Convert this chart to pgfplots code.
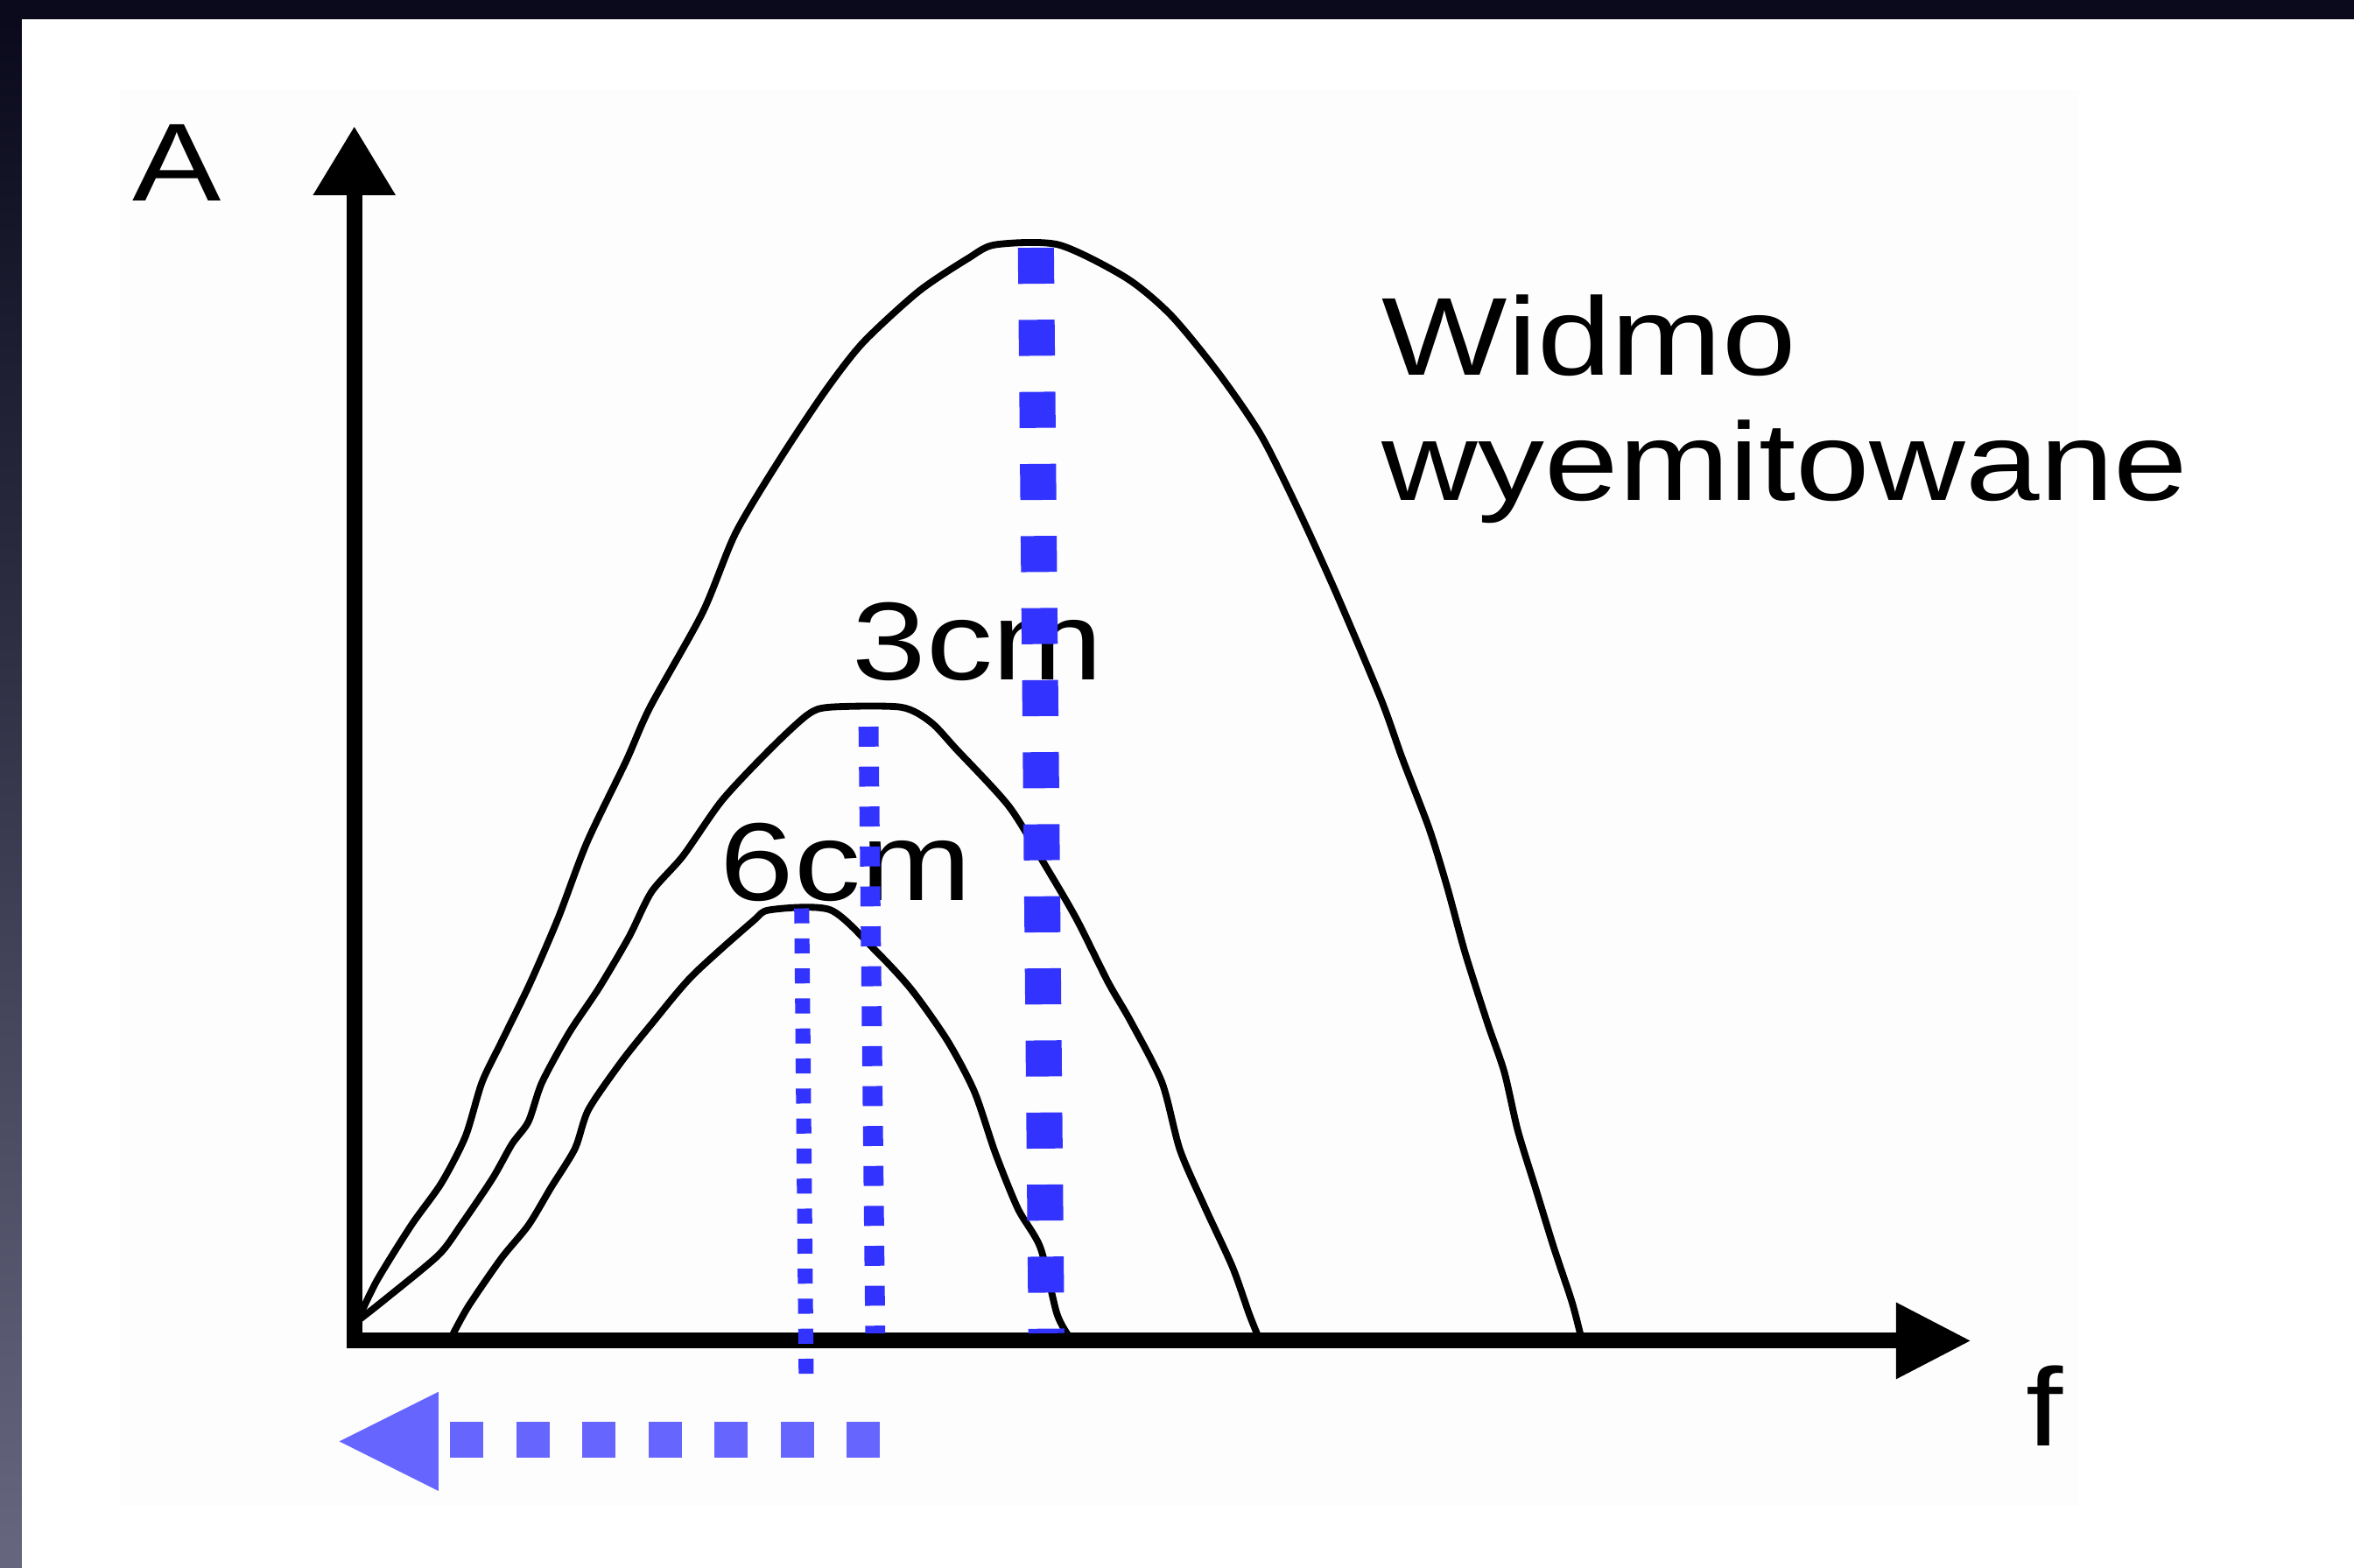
\documentclass[border=0pt]{standalone}
\usepackage{pgfplots}
\pgfplotsset{compat=1.18}
\usetikzlibrary{arrows.meta}
\usepackage{fontspec}
\setmainfont{Liberation Sans}[FakeStretch=1.2]

\definecolor{markblue}{HTML}{3333FF}
\definecolor{arrowblue}{HTML}{6666FF}
\definecolor{frametop}{HTML}{0A0A1C}
\definecolor{framebottom}{HTML}{66667F}
\newcommand\lab{\fontsize{21}{25}\selectfont}

\begin{document}
\begin{tikzpicture}
\begin{axis}[
  scale only axis, width=15.68cm, height=10.44cm,
  xmin=-2.36, xmax=13.32, ymin=-1.51, ymax=8.93,
  hide axis, clip=false,
  spectrum/.style={black, line width=1.3pt, line join=round, smooth, tension=0.45},
]
% page background and dark frame
\fill[white] (axis cs:-2.36,-1.51) rectangle (axis cs:13.32,8.93);
\fill[black!0.6] (axis cs:-1.56,-1.10) rectangle (axis cs:11.49,8.33);
\fill[frametop] (axis cs:-2.36,8.80) rectangle (axis cs:13.32,8.93);
\fill[top color=frametop, bottom color=framebottom] (axis cs:-2.36,-1.51) rectangle (axis cs:-2.215,8.80);
\coordinate (ll) at (axis cs:-2.36,-1.51);
\coordinate (ur) at (axis cs:13.32,8.93);

% axes A (up) and f (right)
\addplot[black, line width=3pt, line join=miter,
  arrows={Triangle[length=4.6mm,width=5.2mm]-Triangle[length=5mm,width=4.8mm]}]
  coordinates {(0,8.09) (0,0) (10.77,0)};

% emitted spectrum
\addplot[spectrum] coordinates {
 (0.02,0.13) (0.15,0.40) (0.38,0.77) (0.58,1.05) (0.74,1.36) (0.85,1.72)
 (0.98,1.99) (1.17,2.38) (1.36,2.82) (1.55,3.32) (1.81,3.86) (1.97,4.22)
 (2.32,4.85) (2.54,5.38) (2.84,5.88) (3.14,6.33) (3.39,6.65) (3.76,6.99)
 (4.09,7.21) (4.27,7.30) (4.69,7.30) (5.14,7.08) (5.44,6.83) (5.76,6.44)
 (6.04,6.03) (6.29,5.53) (6.54,4.98) (6.84,4.27) (6.98,3.88) (7.16,3.41)
 (7.28,3.02) (7.40,2.58) (7.55,2.11) (7.66,1.79) (7.75,1.40) (7.87,1.01)
 (7.99,0.62) (8.11,0.26) (8.17,0.03)};

% spectrum after 3 cm
\addplot[spectrum] coordinates {
 (0.02,0.13) (0.21,0.28) (0.56,0.57) (0.71,0.77) (0.92,1.08) (1.05,1.31)
 (1.16,1.46) (1.25,1.72) (1.43,2.05) (1.63,2.35) (1.83,2.69) (1.98,2.99)
 (2.19,3.23) (2.45,3.60) (2.77,3.94) (3.02,4.17) (3.17,4.22) (3.64,4.22)
 (3.84,4.12) (4.01,3.94) (4.36,3.56) (4.60,3.17) (4.81,2.81) (5.02,2.39)
 (5.17,2.13) (5.38,1.72) (5.50,1.27) (5.67,0.88) (5.85,0.49) (5.96,0.18)
 (6.02,0.03)};

% spectrum after 6 cm
\addplot[spectrum] coordinates {
 (0.65,0.03) (0.76,0.23) (0.98,0.55) (1.16,0.77) (1.31,1.02) (1.47,1.28)
 (1.56,1.54) (1.78,1.86) (1.98,2.11) (2.25,2.43) (2.65,2.79) (2.77,2.87)
 (3.17,2.87) (3.47,2.60) (3.71,2.34) (3.95,2.00) (4.13,1.66) (4.27,1.25)
 (4.42,0.88) (4.57,0.62) (4.68,0.18) (4.76,0.03)};

% labels
\node[anchor=base, inner sep=0pt, font=\lab] at (axis cs:-1.18,7.59) {A};
\node[anchor=base, inner sep=0pt, font=\lab] at (axis cs:11.26,-0.70) {f};
\node[anchor=base west, inner sep=0pt, font=\lab] at (axis cs:6.84,6.43) {Widmo};
\node[anchor=base west, inner sep=0pt, font=\lab] at (axis cs:6.84,5.60) {wyemitowane};
\node[anchor=base west, inner sep=0pt, font=\lab] at (axis cs:3.31,4.40) {3cm};
\node[anchor=base west, inner sep=0pt, font=\lab] at (axis cs:2.43,2.93) {6cm};

% peak frequency markers
\addplot[markblue, line width=2.4mm, dash pattern=on 2.4mm off 2.4mm]
  coordinates {(4.54,7.28) (4.61,0.05)};
\addplot[markblue, line width=1.33mm, dash pattern=on 1.33mm off 1.33mm]
  coordinates {(3.425,4.09) (3.47,0.05)};
\addplot[markblue, line width=1mm, dash pattern=on 1mm off 1mm]
  coordinates {(2.98,2.88) (3.01,-0.25)};

% shift of the peak towards lower f
\addplot[arrowblue, line width=2.35mm, dash pattern=on 2.2mm off 2.2mm]
  coordinates {(3.50,-0.66) (0.63,-0.66)};
\addplot[draw=none, fill=arrowblue]
  coordinates {(0.56,-0.34) (0.56,-1.00) (-0.10,-0.67)};
\end{axis}
\pgfresetboundingbox
\path[use as bounding box] (ll) rectangle (ur);
\end{tikzpicture}
\end{document}
